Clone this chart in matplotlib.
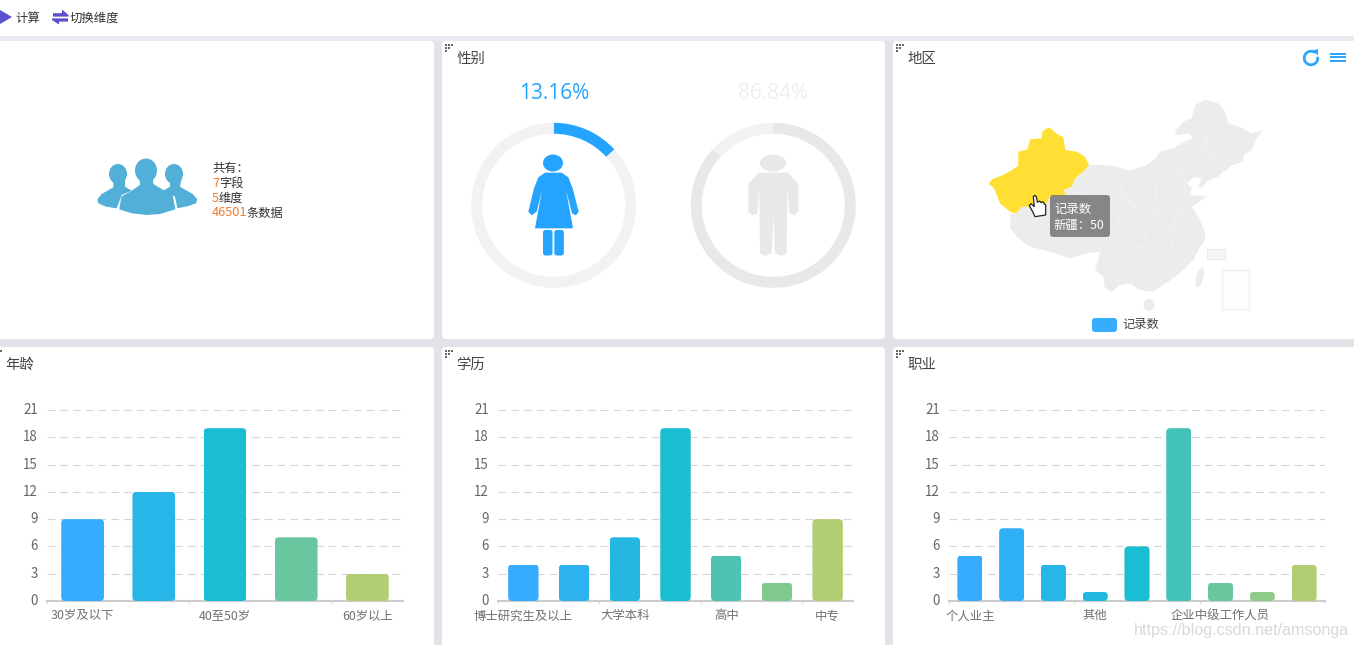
import matplotlib
matplotlib.use('Agg')
import matplotlib.pyplot as plt
import matplotlib.patches as mpatches
from matplotlib.colors import LinearSegmentedColormap
from matplotlib.transforms import ScaledTranslation

plt.rcParams['font.family'] = ['Noto Sans CJK SC', 'DejaVu Sans']

W, H = 1354, 645
BLUE = '#2ea7fb'

# chart values
age_labels = ['30岁及以下', '', '40至50岁', '', '60岁以上']
age_values = [9, 12, 19, 7, 3]
edu_labels = ['博士研究生及以上', '', '大学本科', '', '高中', '', '中专']
edu_values = [4, 4, 7, 19, 5, 2, 9]
job_labels = ['个人业主', '', '', '其他', '', '', '企业中级工作人员', '', '']
job_values = [5, 8, 4, 1, 6, 19, 2, 1, 4]
gender_shares = [13.16, 86.84]
y_ticks = [0, 3, 6, 9, 12, 15, 18, 21]

bar_cmap = LinearSegmentedColormap.from_list(
    'bars', [(0, '#36acff'), (0.5, '#1abdd2'), (0.75, '#68c6a0'), (1, '#b3ce72')])

fig = plt.figure(figsize=(W / 100, H / 100), dpi=100, facecolor='#e2e3e9')

# overlay in pixel coordinates for panels, icons and the map
bg = fig.add_axes([0, 0, 1, 1], zorder=0)
bg.set_xlim(0, W)
bg.set_ylim(H, 0)
bg.axis('off')
top = fig.add_axes([0, 0, 1, 1], zorder=5)
top.set_xlim(0, W)
top.set_ylim(H, 0)
top.axis('off')
top.patch.set_alpha(0)


def panel(x0, y0, x1, y1):
    bg.add_patch(mpatches.FancyBboxPatch((x0, y0), x1 - x0, y1 - y0,
                                         boxstyle='round,pad=0,rounding_size=4',
                                         fc='white', ec='none'))


def handle(ax, x, y):
    for dx, dy in [(0, 0), (3, 0), (6, 0), (0, 3), (3, 3), (0, 6)]:
        ax.add_patch(mpatches.Rectangle((x + dx, y + dy), 2, 2, fc='#666666', ec='none'))


def poly(ax, pts, color, **kw):
    ax.add_patch(mpatches.Polygon(pts, closed=True, fc=color, ec=kw.pop('ec', 'none'), **kw))


def zoomed(pts, ox=890, oy=40):
    return [(ox + x / 3, oy + y / 3) for x, y in pts]


bg.add_patch(mpatches.Rectangle((0, 36), W, 5, fc='#e8ebf0', ec='none'))
bg.add_patch(mpatches.Rectangle((0, 0), W, 36, fc='white', ec='none'))
for box in [(-10, 41, 434, 339), (442, 41, 885, 339), (893, 41, 1364, 339),
            (-10, 347, 434, 655), (442, 347, 885, 655), (893, 347, 1364, 655)]:
    panel(*box)

# toolbar
poly(bg, [(0, 10), (12, 17), (0, 24)], '#5a4fcf')
bg.text(15.5, 18, '计算', fontsize=8.9, color='#333333', va='center')
poly(bg, [(53, 13.2), (62, 13.2), (62, 9.5), (68.5, 15), (68.5, 16.6), (53, 16.6)], '#5a4fcf')
poly(bg, [(52, 18.4), (68, 18.4), (68, 21.6), (59, 21.6), (59, 24.5), (52, 20)], '#5a4fcf')
bg.text(69.5, 18, '切换维度', fontsize=8.9, color='#333333', va='center')

# panel titles and drag handles
for x, y, title in [(456.5, 59, '性别'), (907.5, 59, '地区'), (5.5, 365, '年龄'),
                    (456.5, 365, '学历'), (907.5, 365, '职业')]:
    bg.text(x, y, title, fontsize=10.4, color='#444444', va='center')
for x, y in [(445, 44), (896, 44), (445, 350), (896, 350)]:
    handle(bg, x, y)
bg.add_patch(mpatches.Rectangle((0, 350), 2, 2, fc='#666666', ec='none'))

# people icon
ICON = '#52b0d8'
for cx, cy, w, h in [(118, 174, 18, 20), (146, 170.5, 22, 24), (174, 174, 18, 20)]:
    bg.add_patch(mpatches.Ellipse((cx, cy), w, h, fc=ICON, ec='none'))
poly(bg, zoomed([(340, 535), (375, 535), (375, 560), (395, 572), (365, 585), (350, 625),
                 (318, 620), (295, 610), (292, 598), (305, 582), (340, 562)], 0, 0), ICON)
poly(bg, zoomed([(510, 535), (545, 535), (540, 560), (578, 582), (592, 598), (588, 610),
                 (565, 618), (532, 625), (525, 590), (490, 572), (510, 560)], 0, 0), ICON)
poly(bg, zoomed([(418, 530), (458, 530), (460, 552), (490, 570), (518, 585), (526, 628),
                 (480, 642), (440, 645), (395, 640), (358, 628), (364, 590), (395, 572),
                 (420, 555)], 0, 0), ICON)

# summary text
bg.text(212, 168.5, '共有：', fontsize=8.8, color='#333333', va='center')
for y, num, word, off in [(183.5, '7', '字段', 7), (198, '5', '维度', 7),
                          (213, '46501', '条数据', 35)]:
    bg.text(212, y, num, fontsize=9.2, color='#ee7b33', va='center')
    bg.text(212 + off, y, word, fontsize=8.8, color='#333333', va='center')

# gender rings
RING_R = 82.5
for cx, share, col, rest in [(553.7, gender_shares[0], '#24a4ff', '#f2f2f2'),
                             (773.3, gender_shares[1], '#e8e8e8', '#f2f2f2')]:
    ax = fig.add_axes([(cx - RING_R) / W, 1 - (205.3 + RING_R) / H,
                       2 * RING_R / W, 2 * RING_R / H], zorder=2)
    ax.pie([share, 100 - share], colors=[col, rest], startangle=90, counterclock=False,
           radius=1, wedgeprops={'width': 11 / RING_R, 'linewidth': 0})
    ax.set_xlim(-1, 1)
    ax.set_ylim(-1, 1)
    ax.text(0, 1.355, f'{share:.2f}%', color=col if col != '#e8e8e8' else '#eeeeee',
            fontsize=15, ha='center', va='center', family=['Open Sans', 'DejaVu Sans'],
            clip_on=False)

# woman
W_COL = '#24a4ff'
bg.add_patch(mpatches.Ellipse((553, 163), 20, 17, fc=W_COL, ec='none', zorder=3))
poly(bg, zoomed([(315, 398), (365, 398), (385, 412), (398, 445), (416, 515), (408, 526),
                 (396, 520), (378, 450), (399, 565), (285, 565), (306, 450), (290, 515),
                 (275, 526), (265, 515), (282, 445), (295, 412)], 440, 40), W_COL, zorder=3)
for x in (309, 343):
    bg.add_patch(mpatches.FancyBboxPatch((440 + x / 3, 40 + 570 / 3), 9.5, 25.5,
                                         boxstyle='round,pad=0,rounding_size=2.5',
                                         fc=W_COL, ec='none', zorder=3))

# man
M_COL = '#e8e8e8'
bg.add_patch(mpatches.Ellipse((773, 163), 26, 17, fc=M_COL, ec='none', zorder=3))
poly(bg, zoomed([(955, 398), (1045, 398), (1075, 432), (1075, 515), (1062, 526), (1048, 520),
                 (1042, 445), (1040, 640), (1025, 648), (1005, 640), (1000, 530), (995, 640),
                 (975, 648), (960, 640), (958, 445), (952, 520), (938, 526), (925, 515),
                 (925, 432)], 440, 40), M_COL, zorder=3)

# map, traced by hand
MAP = '#ececec'
LINE = '#f3f3f3'
china = [(597, 375), (640, 375), (680, 380), (720, 392), (770, 375), (800, 352), (810, 335),
         (850, 325), (890, 302), (910, 295), (895, 280), (860, 285), (855, 275), (880, 245),
         (905, 235), (915, 195), (945, 180), (985, 190), (1005, 215), (1015, 250), (1060, 265),
         (1085, 280), (1120, 270), (1100, 295), (1085, 330), (1062, 345), (1060, 365),
         (1030, 375), (1000, 395), (985, 410), (950, 425), (935, 445), (925, 440), (935, 415),
         (915, 410), (890, 428), (905, 445), (900, 465), (950, 470), (920, 490), (905, 500),
         (925, 530), (945, 575), (945, 600), (925, 630), (910, 660), (880, 690), (850, 715),
         (820, 735), (790, 755), (750, 750), (720, 730), (690, 735), (665, 755), (645, 745),
         (640, 710), (615, 690), (625, 660), (630, 635), (590, 640), (540, 655), (480, 635),
         (420, 620), (380, 590), (360, 565), (362, 520), (378, 520), (395, 500), (440, 500),
         (470, 490), (480, 468), (520, 450), (545, 440), (555, 415), (580, 395)]
poly(bg, zoomed(china), MAP)
borders = [
    [(597, 375), (625, 410), (640, 425), (690, 440), (700, 470), (740, 510), (770, 560),
     (790, 520), (800, 440), (840, 400), (880, 395), (940, 320), (1000, 390)],
    [(520, 450), (600, 470), (660, 490), (690, 540), (640, 610), (630, 635)],
    [(690, 540), (770, 580), (760, 620), (700, 625), (660, 660), (690, 735)],
    [(790, 520), (860, 530), (905, 500)],
    [(770, 560), (850, 560), (860, 590), (945, 590)],
    [(760, 620), (770, 680), (830, 670), (850, 600)],
    [(770, 680), (720, 730)],
    [(830, 670), (850, 715)],
    [(880, 395), (885, 450), (900, 465), (860, 530), (850, 560)],
    [(940, 320), (995, 240), (960, 190)],
    [(1060, 365), (960, 340), (945, 290)],
    [(800, 440), (790, 520)],
    [(740, 510), (690, 440)],
]
for line in borders:
    pts = zoomed(line)
    bg.plot([p[0] for p in pts], [p[1] for p in pts], color=LINE, lw=0.6, zorder=2)
xinjiang = [(478, 262), (498, 280), (520, 292), (526, 330), (560, 335), (585, 350), (597, 375),
            (580, 395), (555, 415), (545, 440), (520, 450), (528, 465), (480, 468), (470, 490),
            (440, 500), (395, 500), (378, 520), (360, 515), (330, 490), (312, 445), (297, 432),
            (305, 418), (340, 405), (385, 378), (385, 335), (413, 328), (420, 298), (455, 295),
            (458, 272)]
poly(bg, zoomed(xinjiang), '#ffdf33', zorder=3)
# islands and insets
bg.add_patch(mpatches.Ellipse((890 + 777 / 3, 40 + 795 / 3), 11, 12, fc=MAP, ec='none'))
bg.add_patch(mpatches.Ellipse((890 + 929 / 3, 40 + 713 / 3), 7, 20, angle=15, fc=MAP, ec='none'))
bg.add_patch(mpatches.Rectangle((890 + 995 / 3, 40 + 690 / 3), 27, 39, fc='#fdfdfd',
                                ec='#f0f0f0', lw=1))
bg.add_patch(mpatches.Rectangle((890 + 950 / 3, 40 + 627 / 3), 18, 10, fc='#f6f6f6',
                                ec='#ececec', lw=1))

# tooltip
tx, ty = zoomed([(480, 465)])[0]
bg.add_patch(mpatches.FancyBboxPatch((tx, ty), 60, 42, boxstyle='round,pad=0,rounding_size=3',
                                     fc='#333333', ec='none', alpha=0.55, zorder=4))
bg.text(tx + 4, ty + 14.5, '记录数', fontsize=8.9, color='white', va='center', zorder=5)
bg.text(tx + 4, ty + 30, '新疆：50', fontsize=8.9, color='white', va='center', zorder=5)
# cursor
hand = [(430, 470), (434, 466), (439, 470), (442, 487), (449, 483), (453, 488), (459, 485),
        (463, 492), (467, 495), (467, 525), (435, 530), (428, 515), (418, 497), (423, 491),
        (433, 500)]
poly(top, zoomed(hand), 'white', ec='#222222', lw=0.9)

# map legend
bg.add_patch(mpatches.FancyBboxPatch((1092, 318), 25, 14, boxstyle='round,pad=0,rounding_size=3',
                                     fc='#38acff', ec='none'))
bg.text(1122, 324.5, '记录数', fontsize=8.8, color='#444444', va='center')

# refresh and menu icons
bg.add_patch(mpatches.Arc((1311, 58), 13.5, 13.5, theta1=350, theta2=310, ec=BLUE, lw=2))
poly(bg, [(1312.5, 50.5), (1318, 49), (1318, 55.5)], BLUE)
for y in (53.5, 57, 61):
    bg.add_patch(mpatches.Rectangle((1330, y - 1), 16, 2, fc=BLUE, ec='none'))


def bar_panel(x0, x1, labels, values, step):
    ax = fig.add_axes([x0 / W, 1 - 601 / H, (x1 - x0) / W, (601 - 410) / H], zorder=2)
    ax.patch.set_alpha(0)
    n = len(values)
    colors = [bar_cmap(i / (n - 1)) for i in range(n)]
    bars = ax.bar(range(n), values, width=0.6, color=colors, zorder=3)
    ax.set_xlim(-0.5, n - 0.5)
    ax.set_ylim(0, 21)
    ax.set_yticks(y_ticks)
    ax.set_xticks(range(n))
    ax.set_xticklabels(labels)
    ax.tick_params(axis='y', length=0, labelsize=9.6, labelcolor='#666666', pad=6.5)
    ax.tick_params(axis='x', length=0, labelsize=8.9, labelcolor='#707070', pad=6)
    # value labels sit a little above their grid line
    lift = ScaledTranslation(0, 1.5 / 100, fig.dpi_scale_trans)
    for tick in ax.yaxis.get_major_ticks():
        tick.label1.set_transform(tick.label1.get_transform() + lift)
    ax.grid(axis='y', color='#d6d6d6', lw=0.8, dashes=(7, 4.5), zorder=1)
    for s in ['top', 'left', 'right']:
        ax.spines[s].set_visible(False)
    ax.spines['bottom'].set_color('#cccccc')
    ax.spines['bottom'].set_linewidth(1.5)
    # tick marks fall on every `step` category boundary
    for i in range(0, n + 1, step):
        ax.plot([i - 0.5, i - 0.5], [0, -0.2], color='#d4d4d4', lw=0.7, clip_on=False)
    # round the bar corners with a clip shape
    px_x = (x1 - x0) / n
    px_y = (601 - 410) / 21
    for b in bars:
        clip = mpatches.FancyBboxPatch((b.get_x(), 0), b.get_width(), b.get_height(),
                                       boxstyle=f'round,pad=0,rounding_size={4 / px_x}',
                                       mutation_aspect=px_x / px_y,
                                       transform=ax.transData)
        b.set_clip_path(clip)
    return ax


bar_panel(47, 403, age_labels, age_values, 2)
bar_panel(498, 853, edu_labels, edu_values, 2)
bar_panel(949, 1325, job_labels, job_values, 3)

# watermark
top.text(1134, 630, 'https://blog.csdn.net/amsonga', fontsize=11.6, color='#d8d8d8',
         family=['Liberation Sans'], va='center')

fig.savefig('out.png', dpi=100)
